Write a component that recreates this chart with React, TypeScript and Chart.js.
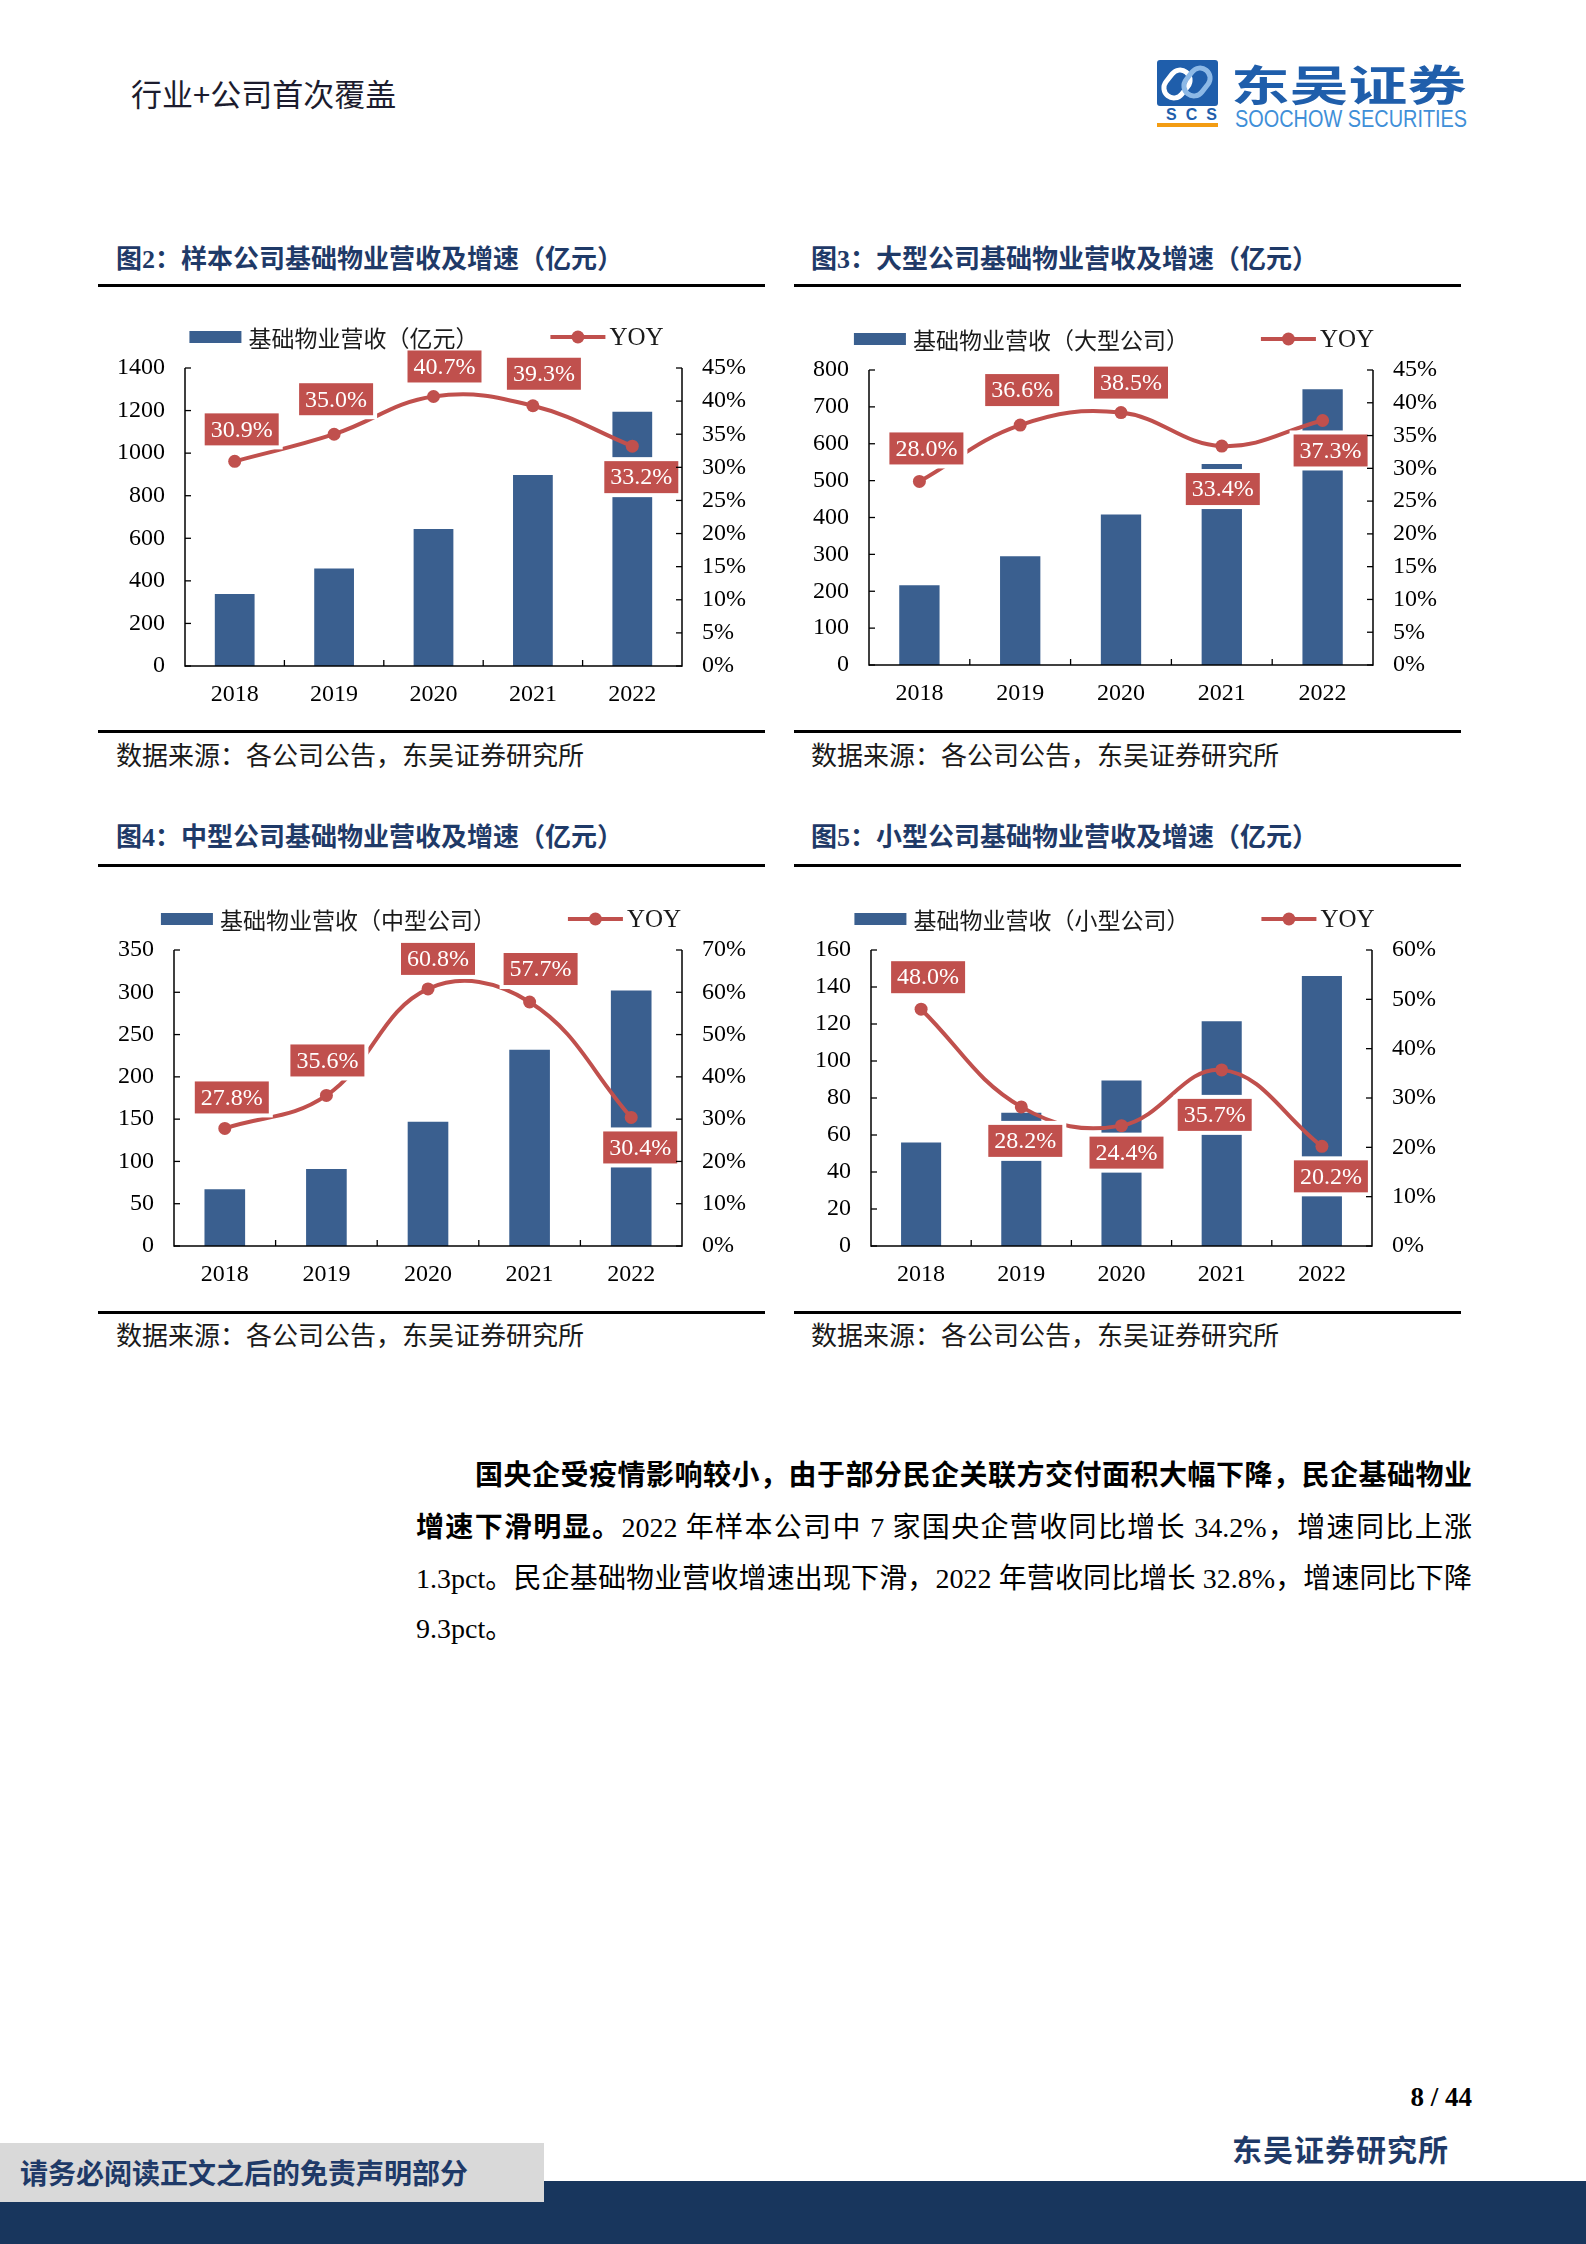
import React, { useEffect, useRef } from 'react';
import { Chart, registerables } from 'chart.js';

Chart.register(...registerables);

// ---------------- data ----------------
const years = ['2018', '2019', '2020', '2021', '2022'];

const sampleRevenue = [338, 458, 644, 897, 1195];
const sampleYoy = [30.9, 35.0, 40.7, 39.3, 33.2];

const largeRevenue = [216, 295, 408, 545, 748];
const largeYoy = [28.0, 36.6, 38.5, 33.4, 37.3];

const midRevenue = [67, 91, 147, 232, 302];
const midYoy = [27.8, 35.6, 60.8, 57.7, 30.4];

const smallRevenue = [56, 72, 89.5, 121.5, 146];
const smallYoy = [48.0, 28.2, 24.4, 35.7, 20.2];

const sampleLeftTicks = { max: 1400, step: 200 };
const largeLeftTicks = { max: 800, step: 100 };
const midLeftTicks = { max: 350, step: 50 };
const smallLeftTicks = { max: 160, step: 20 };

const sampleRightTicks = { max: 45, step: 5 };
const largeRightTicks = { max: 45, step: 5 };
const midRightTicks = { max: 70, step: 10 };
const smallRightTicks = { max: 60, step: 10 };

const yoyLabel = 'YOY';
const sampleBarLabel = '基础物业营收（亿元）';
const largeBarLabel = '基础物业营收（大型公司）';
const midBarLabel = '基础物业营收（中型公司）';
const smallBarLabel = '基础物业营收（小型公司）';

// ---------------- styles ----------------
const BLUE = '#3A5F8F';
const RED = '#C0504D';
const NAVY = '#1F3A68';
const SERIF = "'Liberation Serif', 'Times New Roman', serif";
const CJK = "'Noto Sans CJK SC', 'Noto Sans', sans-serif";
const MIXED = "'Liberation Serif', 'Noto Sans CJK SC', serif";

type Rect = { x: number; y: number; w: number; h: number };
type Plot = { l: number; r: number; t: number; b: number };

type Spec = {
  revenue: number[];
  yoy: number[];
  barLabel: string;
  left: { max: number; step: number };
  right: { max: number; step: number };
  canvas: Rect;
  plot: Plot;
  labelOffsets: [number, number][];
};

function decorPlugin(spec: Spec) {
  return {
    id: 'decor',
    afterDraw(chart: any) {
      const ctx: CanvasRenderingContext2D = chart.ctx;
      const { left, right, top, bottom } = chart.chartArea;
      const xs = chart.scales.x;
      const ys = chart.scales.y;
      const y1 = chart.scales.y1;
      ctx.save();

      // data labels
      const meta = chart.getDatasetMeta(0);
      ctx.font = `24px ${SERIF}`;
      ctx.textAlign = 'center';
      ctx.textBaseline = 'middle';
      meta.data.forEach((pt: any, i: number) => {
        const [dx, dy] = spec.labelOffsets[i];
        const cx = pt.x + dx;
        const cy = pt.y + dy;
        const text = spec.yoy[i].toFixed(1) + '%';
        const w = ctx.measureText(text).width + 12;
        const h = 32;
        ctx.fillStyle = '#ffffff';
        ctx.fillRect(cx - w / 2 - 4, cy - h / 2 - 4, w + 8, h + 8);
        ctx.fillStyle = RED;
        ctx.fillRect(cx - w / 2, cy - h / 2, w, h);
        ctx.fillStyle = '#ffffff';
        ctx.fillText(text, cx, cy + 1);
      });

      // axes
      ctx.strokeStyle = '#000';
      ctx.lineWidth = 1.5;
      const line = (a: number, b: number, c: number, d: number) => {
        ctx.beginPath();
        ctx.moveTo(a, b);
        ctx.lineTo(c, d);
        ctx.stroke();
      };
      line(left, top, left, bottom + 0.75);
      line(right, top, right, bottom + 0.75);
      line(left, bottom, right, bottom);
      ctx.lineWidth = 1.3;
      ys.ticks.forEach((t: any) => {
        const py = ys.getPixelForValue(t.value);
        line(left, py, left + 6, py);
      });
      y1.ticks.forEach((t: any) => {
        const py = y1.getPixelForValue(t.value);
        line(right - 6, py, right, py);
      });
      for (let i = 0; i < years.length - 1; i++) {
        const px = (xs.getPixelForValue(i) + xs.getPixelForValue(i + 1)) / 2;
        line(px, bottom - 6, px, bottom);
      }

      // legend
      const ly = top - 31;
      ctx.font = `23px ${CJK}`;
      const w1 = ctx.measureText(spec.barLabel).width;
      ctx.font = `25px ${SERIF}`;
      const w2 = ctx.measureText(yoyLabel).width;
      const gap = 72;
      const total = 52 + 7 + w1 + gap + 55 + 4 + w2;
      const sx = (left + right) / 2 - total / 2 - 7;
      ctx.fillStyle = BLUE;
      ctx.fillRect(sx, ly - 6, 52, 12);
      ctx.fillStyle = '#1a1a1a';
      ctx.textAlign = 'left';
      ctx.textBaseline = 'middle';
      ctx.font = `23px ${CJK}`;
      ctx.fillText(spec.barLabel, sx + 59, ly + 1);
      const x0 = sx + 59 + w1 + gap;
      ctx.strokeStyle = RED;
      ctx.lineWidth = 4;
      line(x0, ly, x0 + 55, ly);
      ctx.fillStyle = RED;
      ctx.beginPath();
      ctx.arc(x0 + 27.5, ly, 6.5, 0, Math.PI * 2);
      ctx.fill();
      ctx.fillStyle = '#1a1a1a';
      ctx.font = `25px ${SERIF}`;
      ctx.fillText(yoyLabel, x0 + 59, ly + 1);

      ctx.restore();
    },
  };
}

function ComboChart({ spec }: { spec: Spec }) {
  const ref = useRef<HTMLCanvasElement | null>(null);
  useEffect(() => {
    if (!ref.current) return;
    const { canvas, plot } = spec;
    const leftW = plot.l - canvas.x;
    const rightW = canvas.x + canvas.w - plot.r;
    const xH = canvas.y + canvas.h - plot.b;
    const padTop = plot.t - canvas.y;
    const tickFont = { family: SERIF, size: 24 };
    const chart = new Chart(ref.current, {
      type: 'bar',
      data: {
        labels: years,
        datasets: [
          {
            type: 'line',
            label: yoyLabel,
            data: spec.yoy,
            yAxisID: 'y1',
            borderColor: RED,
            backgroundColor: RED,
            borderWidth: 4,
            pointRadius: 6.5,
            pointHoverRadius: 6.5,
            pointBackgroundColor: RED,
            pointBorderColor: RED,
            pointBorderWidth: 0,
            tension: 0.4,
            order: 0,
          } as any,
          {
            type: 'bar',
            label: spec.barLabel,
            data: spec.revenue,
            yAxisID: 'y',
            backgroundColor: BLUE,
            barPercentage: 0.4,
            categoryPercentage: 1,
            order: 1,
          } as any,
        ],
      },
      options: {
        responsive: false,
        animation: false,
        devicePixelRatio: 1,
        events: [],
        layout: { padding: { top: padTop, left: 0, right: 0, bottom: 0 } },
        plugins: { legend: { display: false }, tooltip: { enabled: false } },
        scales: {
          x: {
            grid: { display: false, drawTicks: false },
            border: { display: false },
            ticks: { color: '#000', font: tickFont, padding: 14, maxRotation: 0, autoSkip: false },
            afterFit: (s: any) => {
              s.height = xH;
            },
          },
          y: {
            position: 'left',
            min: 0,
            max: spec.left.max,
            grid: { display: false, drawTicks: false },
            border: { display: false },
            ticks: {
              stepSize: spec.left.step,
              color: '#000',
              font: tickFont,
              padding: 20,
              callback: (v: any) => String(v),
            },
            afterFit: (s: any) => {
              s.width = leftW;
            },
          },
          y1: {
            position: 'right',
            min: 0,
            max: spec.right.max,
            grid: { display: false, drawTicks: false },
            border: { display: false },
            ticks: {
              stepSize: spec.right.step,
              color: '#000',
              font: tickFont,
              padding: 20,
              callback: (v: any) => `${v}%`,
            },
            afterFit: (s: any) => {
              s.width = rightW;
            },
          },
        } as any,
      } as any,
      plugins: [decorPlugin(spec)],
    });
    return () => chart.destroy();
  }, [spec]);
  const { canvas } = spec;
  return (
    <canvas
      ref={ref}
      width={canvas.w}
      height={canvas.h}
      style={{ position: 'absolute', left: canvas.x, top: canvas.y, width: canvas.w, height: canvas.h }}
    />
  );
}

const specs: Spec[] = [
  {
    revenue: sampleRevenue,
    yoy: sampleYoy,
    barLabel: sampleBarLabel,
    left: sampleLeftTicks,
    right: sampleRightTicks,
    canvas: { x: 98, y: 300, w: 667, h: 420 },
    plot: { l: 185, r: 682, t: 368, b: 666 },
    labelOffsets: [[7, -32], [2, -35], [11, -30], [11, -32], [9, 31]],
  },
  {
    revenue: largeRevenue,
    yoy: largeYoy,
    barLabel: largeBarLabel,
    left: largeLeftTicks,
    right: largeRightTicks,
    canvas: { x: 794, y: 300, w: 667, h: 420 },
    plot: { l: 869, r: 1373, t: 370, b: 665 },
    labelOffsets: [[7, -33], [2, -35], [10, -30], [1, 43], [8, 30]],
  },
  {
    revenue: midRevenue,
    yoy: midYoy,
    barLabel: midBarLabel,
    left: midLeftTicks,
    right: midRightTicks,
    canvas: { x: 98, y: 880, w: 667, h: 420 },
    plot: { l: 174, r: 682, t: 950, b: 1246 },
    labelOffsets: [[7, -31], [1, -35], [10, -30], [11, -33], [9, 30]],
  },
  {
    revenue: smallRevenue,
    yoy: smallYoy,
    barLabel: smallBarLabel,
    left: smallLeftTicks,
    right: smallRightTicks,
    canvas: { x: 794, y: 880, w: 667, h: 420 },
    plot: { l: 871, r: 1372, t: 950, b: 1246 },
    labelOffsets: [[7, -32], [4, 34], [5, 27], [-7, 45], [9, 30]],
  },
];

const titles = [
  '图2：样本公司基础物业营收及增速（亿元）',
  '图3：大型公司基础物业营收及增速（亿元）',
  '图4：中型公司基础物业营收及增速（亿元）',
  '图5：小型公司基础物业营收及增速（亿元）',
];
const sourceText = '数据来源：各公司公告，东吴证券研究所';

function T({ x, cy, size, lh, style, children }: any) {
  const h = lh ?? Math.round(size * 1.3);
  return (
    <div
      style={{
        position: 'absolute',
        left: x,
        top: cy - h / 2,
        height: h,
        lineHeight: `${h}px`,
        fontSize: size,
        whiteSpace: 'nowrap',
        ...style,
      }}
    >
      {children}
    </div>
  );
}

function Rule({ x, y, w, h = 3 }: any) {
  return <div style={{ position: 'absolute', left: x, top: y, width: w, height: h, background: '#000' }} />;
}

export default function App() {
  const panels = [
    { x: 98, titleY: 260, topRule: 283.5, botRule: 729.5, srcY: 754, tx: 116 },
    { x: 794, titleY: 260, topRule: 283.5, botRule: 729.5, srcY: 754, tx: 811 },
    { x: 98, titleY: 838, topRule: 863.5, botRule: 1310.5, srcY: 1334, tx: 116 },
    { x: 794, titleY: 838, topRule: 863.5, botRule: 1310.5, srcY: 1334, tx: 811 },
  ];
  const para = { fontFamily: MIXED, fontSize: 28, color: '#000' };
  const justify: any = { textAlign: 'justify', textAlignLast: 'justify', whiteSpace: 'normal' };
  return (
    <div
      style={{
        position: 'absolute',
        left: 0,
        top: 0,
        width: 1586,
        height: 2244,
        background: '#fff',
        overflow: 'hidden',
        fontFamily: MIXED,
      }}
    >
      {/* header */}
      <T x={131} cy={93} size={31} style={{ fontFamily: CJK, color: '#1c1c2e' }}>
        行业+公司首次覆盖
      </T>

      {/* logo */}
      <svg style={{ position: 'absolute', left: 1157, top: 60 }} width={61} height={46} viewBox="0 0 61 46">
        <rect x={0} y={0} width={61} height={46} rx={3} fill="#1F5EAB" />
        <rect x={10} y={9} width={20} height={30} rx={10} transform="rotate(38 20 24)" fill="none" stroke="#ffffff" strokeWidth={5} />
        <rect x={30} y={7} width={20} height={30} rx={10} transform="rotate(38 40 22)" fill="none" stroke="#8DB9E6" strokeWidth={5} />
      </svg>
      <T x={1157} cy={114.5} size={16} lh={16} style={{ fontFamily: "'Liberation Sans', sans-serif", fontWeight: 700, color: '#1F5EAB', width: 61, textAlign: 'center', letterSpacing: 9, textIndent: 9 }}>
        SCS
      </T>
      <div style={{ position: 'absolute', left: 1157, top: 123, width: 61, height: 3.5, background: '#F39C12' }} />
      <T x={1231} cy={82.5} size={42} lh={44} style={{ fontFamily: CJK, fontWeight: 700, color: '#1F5EAB', transform: 'scaleX(1.4)', transformOrigin: 'left center' }}>
        东吴证券
      </T>
      <T x={1235} cy={118.5} size={23} lh={24} style={{ fontFamily: "'Liberation Sans', sans-serif", color: '#3F8FD8', transform: 'scaleX(0.865)', transformOrigin: 'left center' }}>
        SOOCHOW SECURITIES
      </T>

      {/* chart panels */}
      {panels.map((p, i) => (
        <React.Fragment key={i}>
          <T x={p.tx} cy={p.titleY} size={26} style={{ fontFamily: MIXED, fontWeight: 700, color: NAVY }}>
            {titles[i]}
          </T>
          <Rule x={p.x} y={p.topRule} w={667} />
          <Rule x={p.x} y={p.botRule} w={667} />
          <T x={p.tx} cy={p.srcY} size={26} style={{ fontFamily: CJK, color: '#1a1a1a' }}>
            {sourceText}
          </T>
          <ComboChart spec={specs[i]} />
        </React.Fragment>
      ))}

      {/* paragraph */}
      <div style={{ position: 'absolute', left: 475, top: 1475 - 25.5, width: 997, lineHeight: '51px', height: 51, ...para, ...justify, fontWeight: 700 }}>
        国央企受疫情影响较小，由于部分民企关联方交付面积大幅下降，民企基础物业
      </div>
      <div style={{ position: 'absolute', left: 416, top: 1527 - 25.5, width: 1056, lineHeight: '51px', height: 51, ...para, ...justify }}>
        <b>增速下滑明显。</b>2022 年样本公司中 7 家国央企营收同比增长 34.2%，增速同比上涨
      </div>
      <div style={{ position: 'absolute', left: 416, top: 1578 - 25.5, width: 1056, lineHeight: '51px', height: 51, ...para, ...justify }}>
        1.3pct。民企基础物业营收增速出现下滑，2022 年营收同比增长 32.8%，增速同比下降
      </div>
      <div style={{ position: 'absolute', left: 416, top: 1628 - 25.5, width: 1056, lineHeight: '51px', height: 51, ...para }}>
        9.3pct。
      </div>

      {/* footer */}
      <div style={{ position: 'absolute', right: 1586 - 1472, top: 2097 - 17, height: 34, lineHeight: '34px', fontFamily: SERIF, fontWeight: 700, fontSize: 27, color: '#000' }}>
        8 / 44
      </div>
      <T x={1232} cy={2148} size={30} style={{ fontFamily: CJK, fontWeight: 700, color: NAVY, letterSpacing: 1 }}>
        东吴证券研究所
      </T>
      <div style={{ position: 'absolute', left: 0, top: 2181, width: 1586, height: 63, background: '#18365D' }} />
      <div style={{ position: 'absolute', left: 0, top: 2143, width: 544, height: 59, background: '#D9D9D9' }} />
      <T x={20} cy={2172} size={28} style={{ fontFamily: CJK, fontWeight: 700, color: NAVY }}>
        请务必阅读正文之后的免责声明部分
      </T>
    </div>
  );
}
